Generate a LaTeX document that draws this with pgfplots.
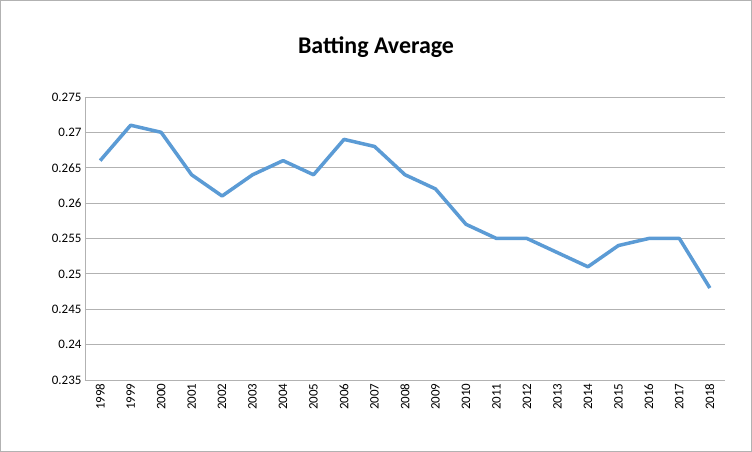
\documentclass[border=0pt]{standalone}
\usepackage{pgfplots}
\pgfplotsset{compat=1.18}
\usepackage{fontspec}
\setmainfont{Carlito}
\definecolor{line}{RGB}{91,155,213}
\begin{document}
\begin{tikzpicture}
\draw[gray!60,line width=0.8bp,fill=white] (0.5bp,0.5bp) rectangle (751.5bp,451.5bp);
\node[font=\bfseries\fontsize{24}{28}\selectfont] at (376bp,405bp) {Batting Average};
\begin{axis}[at={(85bp,72bp)},anchor=south west,scale only axis,width=640bp,height=283bp,
 xmin=1997.5,xmax=2018.5,ymin=0.235,ymax=0.275,
 xtick={1998,...,2018},
 xticklabel style={rotate=90,anchor=east,font=\fontsize{13}{15}\selectfont},
 xticklabel={\pgfmathprintnumber[1000 sep={},fixed]{\tick}},
 ytick={0.235,0.24,...,0.2751},
 yticklabel style={font=\fontsize{13}{15}\selectfont},
 yticklabel={\pgfmathprintnumber[fixed,precision=3]{\tick}},
 /pgf/number format/assume math mode=true,
 ymajorgrids,grid style={gray!60,line width=0.8bp},
 axis line style={gray!60,line width=0.8bp},
 axis x line*=bottom, axis y line*=left,
 tick style={draw=none},
 ]
\addplot[line,line width=3.5bp,line join=round] coordinates {
(1998,0.266)(1999,0.271)(2000,0.270)(2001,0.264)(2002,0.261)(2003,0.264)(2004,0.266)
(2005,0.264)(2006,0.269)(2007,0.268)(2008,0.264)(2009,0.262)(2010,0.257)(2011,0.255)
(2012,0.255)(2013,0.253)(2014,0.251)(2015,0.254)(2016,0.255)(2017,0.255)(2018,0.248)};
\end{axis}
\end{tikzpicture}
\end{document}
